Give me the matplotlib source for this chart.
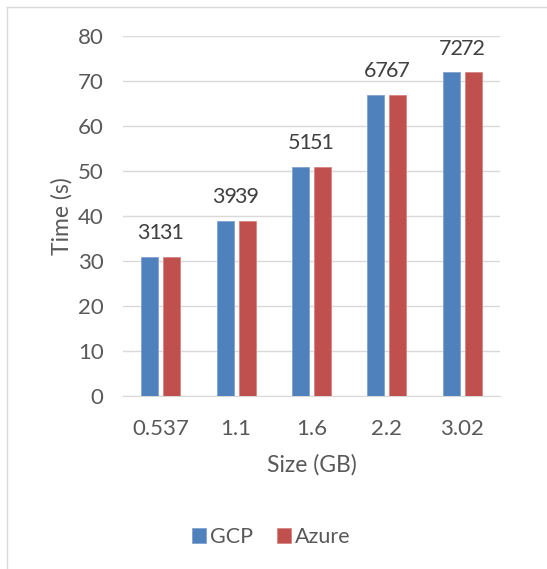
import numpy as np
import matplotlib.pyplot as plt
from matplotlib.lines import Line2D

plt.rcParams['font.family'] = ['Lato', 'DejaVu Sans']

sizes = ["0.537", "1.1", "1.6", "2.2", "3.02"]
gcp = [31, 39, 51, 67, 72]
azure = [31, 39, 51, 67, 72]

text_col = "#595959"
grid_col = "#d9d9d9"

fig = plt.figure(figsize=(5.47, 5.69), dpi=100)
ax = fig.add_axes([0.2249, 0.304, 0.6891, 0.6327])

x = np.arange(len(sizes))
w = 0.226
off = 0.146
b1 = ax.bar(x - off, gcp, w, color="#4F81BD", edgecolor="#7fa3d1", linewidth=0.6, label="GCP", zorder=3)
b2 = ax.bar(x + off, azure, w, color="#C0504D", edgecolor="#d68684", linewidth=0.6, label="Azure", zorder=3)

for bars in (b1, b2):
    for r in bars:
        ax.annotate(f"{int(r.get_height())}", (r.get_x() + r.get_width() / 2, r.get_height()),
                    xytext=(0, 12.5), textcoords="offset points", ha="center", va="baseline",
                    fontsize=15.5, color="#404040")

ax.set_xlim(-0.5, len(sizes) - 0.5)
ax.set_ylim(0, 80)
ax.set_yticks(range(0, 81, 10))
ax.set_xticks(x)
ax.set_xticklabels(sizes)
ax.yaxis.grid(True, color=grid_col, linewidth=1)
ax.set_axisbelow(True)
for s in ("top", "right", "left"):
    ax.spines[s].set_visible(False)
ax.spines["bottom"].set_color(grid_col)
ax.tick_params(axis="both", length=0, labelsize=16, colors=text_col)
ax.tick_params(axis="y", pad=14)
ax.tick_params(axis="x", pad=16.5)

ax.set_xlabel("Size (GB)", fontsize=16.5, color=text_col, labelpad=11)
ax.set_ylabel("Time (s)", fontsize=16.5, color=text_col, labelpad=4)

fig.legend(loc="center", bbox_to_anchor=(0.496, 0.056), ncol=2, frameon=False,
           fontsize=15.5, labelcolor=text_col, handlelength=0.65, handleheight=0.65,
           handletextpad=0.2, columnspacing=1.1)

# chart frame
fig.add_artist(Line2D([7 / 547, 7 / 547], [0, 1 - 7 / 569], color=grid_col, linewidth=1, transform=fig.transFigure))
fig.add_artist(Line2D([7 / 547, 1], [1 - 7 / 569, 1 - 7 / 569], color=grid_col, linewidth=1, transform=fig.transFigure))

fig.savefig("out.png", dpi=100)
